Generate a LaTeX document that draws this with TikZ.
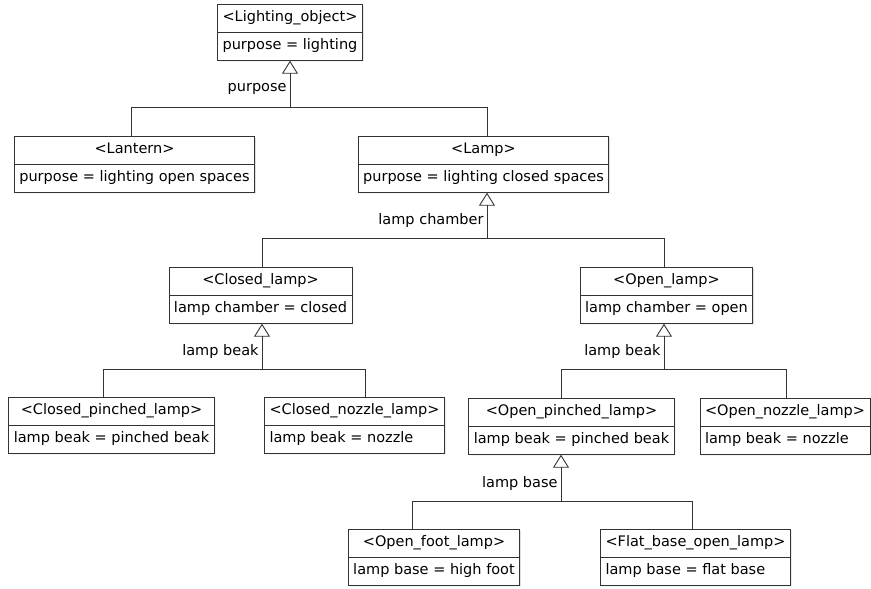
\documentclass[tikz,border=0pt]{standalone}
\usepackage{fontspec}
\setmainfont{DejaVu Sans}
\usetikzlibrary{shapes.multipart,arrows.meta,shadows}
\tikzset{cls/.style={rectangle split,rectangle split parts=2,draw=black!80,line width=0.9pt,fill=white,
    rectangle split part align={center,left},inner xsep=5pt,inner ysep=5.5pt,anchor=north,
    font=\fontsize{14.5}{16}\selectfont,drop shadow={shadow xshift=1.2pt,shadow yshift=-1.2pt,opacity=0.25}},
  gen/.style={draw=black!80,line width=0.9pt},
  tri/.style={-{Triangle[open,length=13pt,width=16pt]}},
  lbl/.style={font=\fontsize{14.5}{16}\selectfont,inner sep=3pt}}
\newcommand\clsparts[2]{\strut#1\nodepart{two}\strut#2}

\begin{document}
\begin{tikzpicture}[x=1pt,y=-1pt]
    \useasboundingbox (0,0) rectangle (871,589);

    \node[cls] (lobj) at (290,4) {\clsparts{<Lighting\_object>}{purpose = lighting}};
    \node[cls] (lantern) at (134.5,136) {\clsparts{<Lantern>}{purpose = lighting open spaces}};
    \node[cls] (lamp) at (483.5,136) {\clsparts{<Lamp>}{purpose = lighting closed spaces}};
    \node[cls] (clamp) at (260.5,267) {\clsparts{<Closed\_lamp>}{lamp chamber = closed}};
    \node[cls] (olamp) at (666.5,267) {\clsparts{<Open\_lamp>}{lamp chamber = open}};
    \node[cls] (cpl) at (111.5,397) {\clsparts{<Closed\_pinched\_lamp>}{lamp beak = pinched beak}};
    \node[cls] (cnl) at (354.5,397) {\clsparts{<Closed\_nozzle\_lamp>}{lamp beak = nozzle}};
    \node[cls] (opl) at (571.5,398) {\clsparts{<Open\_pinched\_lamp>}{lamp beak = pinched beak}};
    \node[cls] (onl) at (785,398) {\clsparts{<Open\_nozzle\_lamp>}{lamp beak = nozzle}};
    \node[cls] (ofl) at (434,529) {\clsparts{<Open\_foot\_lamp>}{lamp base = high foot}};
    \node[cls] (fbl) at (695.5,529) {\clsparts{<Flat\_base\_open\_lamp>}{lamp base = flat base}};

    % purpose
    \coordinate (j1) at (290,107);
    \coordinate (j1a) at (131,107);
    \coordinate (j1b) at (487,107);
    \draw [gen] (j1a) -- (j1b);
    \draw [gen] (j1a) -- (j1a |- lantern.north);
    \draw [gen] (j1b) -- (j1b |- lamp.north);
    \draw [gen,tri] (j1) -- (j1 |- lobj.south) node[lbl,left,pos=0.38]{purpose};

    % lamp chamber
    \coordinate (j2) at (487,238);
    \coordinate (j2a) at (262,238);
    \coordinate (j2b) at (664,238);
    \draw [gen] (j2a) -- (j2b);
    \draw [gen] (j2a) -- (j2a |- clamp.north);
    \draw [gen] (j2b) -- (j2b |- olamp.north);
    \draw [gen,tri] (j2) -- (j2 |- lamp.south) node[lbl,left,pos=0.38]{lamp chamber};

    % lamp beak (closed)
    \coordinate (j3) at (262,369);
    \coordinate (j3a) at (103,369);
    \coordinate (j3b) at (365,369);
    \draw [gen] (j3a) -- (j3b);
    \draw [gen] (j3a) -- (j3a |- cpl.north);
    \draw [gen] (j3b) -- (j3b |- cnl.north);
    \draw [gen,tri] (j3) -- (j3 |- clamp.south) node[lbl,left,pos=0.38]{lamp beak};

    % lamp beak (open)
    \coordinate (j4) at (664,369);
    \coordinate (j4a) at (561,369);
    \coordinate (j4b) at (786,369);
    \draw [gen] (j4a) -- (j4b);
    \draw [gen] (j4a) -- (j4a |- opl.north);
    \draw [gen] (j4b) -- (j4b |- onl.north);
    \draw [gen,tri] (j4) -- (j4 |- olamp.south) node[lbl,left,pos=0.38]{lamp beak};

    % lamp base
    \coordinate (j5) at (561,501);
    \coordinate (j5a) at (412,501);
    \coordinate (j5b) at (692,501);
    \draw [gen] (j5a) -- (j5b);
    \draw [gen] (j5a) -- (j5a |- ofl.north);
    \draw [gen] (j5b) -- (j5b |- fbl.north);
    \draw [gen,tri] (j5) -- (j5 |- opl.south) node[lbl,left,pos=0.38]{lamp base};
\end{tikzpicture}
\end{document}
